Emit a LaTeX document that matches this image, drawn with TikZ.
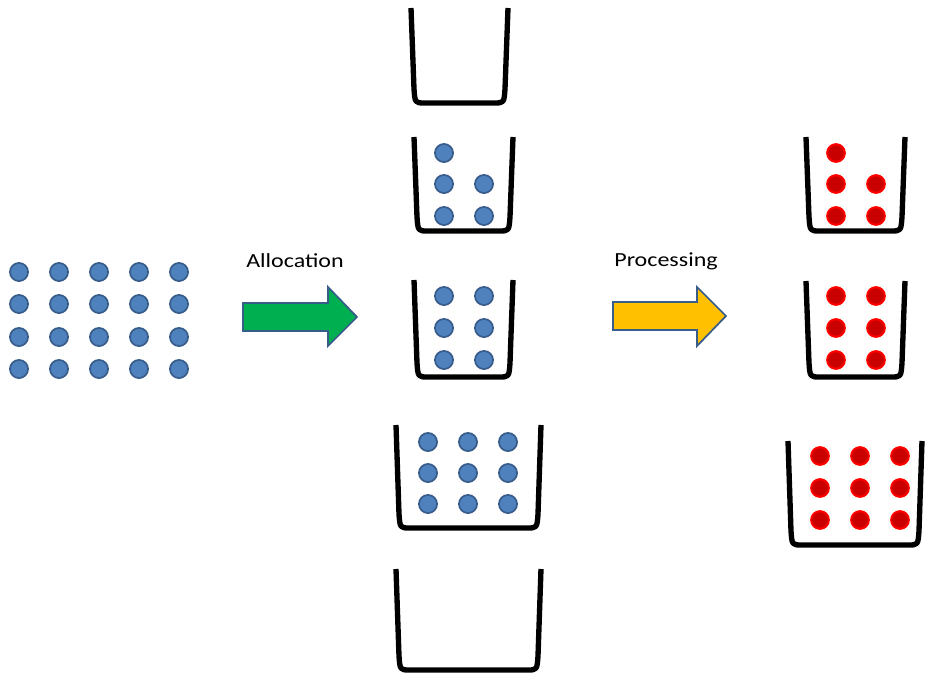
\documentclass[tikz,border=0pt]{standalone}
\usepackage{fontspec}
\setmainfont{Carlito}
\definecolor{dotblue}{RGB}{79,129,189}
\definecolor{dotedge}{RGB}{56,93,138}
\definecolor{dotred}{RGB}{200,0,0}
\definecolor{arrgreen}{RGB}{0,176,80}
\definecolor{arryellow}{RGB}{255,192,0}
\tikzset{
  bucket/.style={draw=black, line width=4pt, line join=round, line cap=butt},
  bdot/.style={fill=dotblue, draw=dotedge, line width=1.3pt},
  rdot/.style={fill=dotred, draw=red, line width=1.6pt},
  bigarrow/.style={draw=dotedge, line width=1.3pt, line join=miter},
  lbl/.style={font=\fontsize{15}{18}\selectfont, xscale=1.2, inner sep=0pt}
}
\newcommand\bkt[4]{%
  \draw[bucket] (#1,#2) -- ({#1+3},{#4-14}) .. controls ({#1+4},{#4}) .. ({#1+14},{#4})
    -- ({#3-14},{#4}) .. controls ({#3-4},{#4}) .. ({#3-3},{#4-14}) -- (#3,#2);}
\newcommand\bd[2]{\path[bdot] (#1,#2) circle (6.8pt);}
\newcommand\rd[2]{\path[rdot] (#1,#2) circle (6.6pt);}
\begin{document}
\begin{tikzpicture}[x=0.75pt,y=-0.75pt]
\useasboundingbox (0,0) rectangle (926,675);
% source grid
\foreach \x in {19,59,99,139,179}
  \foreach \y in {272,304,337,369} {\bd{\x}{\y}}
% arrows
\draw[bigarrow, fill=arrgreen] (243,303) -- (328,303) -- (328,287) -- (357,317) -- (328,346) -- (328,331) -- (243,331) -- cycle;
\node[lbl] (alloc) at (295,261) {Allocation};
\draw[bigarrow, fill=arryellow] (613,302) -- (697,302) -- (697,287) -- (726,316) -- (697,346) -- (697,330) -- (613,330) -- cycle;
\node[lbl] (proc) at (666,261) {Processing};
% middle buckets
\bkt{411}{8}{508}{103}
\bkt{414}{137}{513}{231}
\foreach \p in {(444,153),(444,184),(484,184),(444,216),(484,216)} {\path[bdot] \p circle (6.8pt);}
\bkt{414}{280}{513}{377}
\foreach \x in {444,484} \foreach \y in {296,328,360} {\bd{\x}{\y}}
\bkt{396}{425}{541}{528}
\foreach \x in {428,468,508} \foreach \y in {442,473,504} {\bd{\x}{\y}}
\bkt{396}{569}{541}{670}
% right buckets
\bkt{806}{137}{905}{231}
\foreach \p in {(836,153),(836,184),(876,184),(836,216),(876,216)} {\path[rdot] \p circle (6.6pt);}
\bkt{806}{281}{905}{377}
\foreach \x in {836,876} \foreach \y in {296,328,360} {\rd{\x}{\y}}
\bkt{788}{441}{922}{545}
\foreach \x in {820,860,900} \foreach \y in {456,488,520} {\rd{\x}{\y}}
\end{tikzpicture}
\end{document}
